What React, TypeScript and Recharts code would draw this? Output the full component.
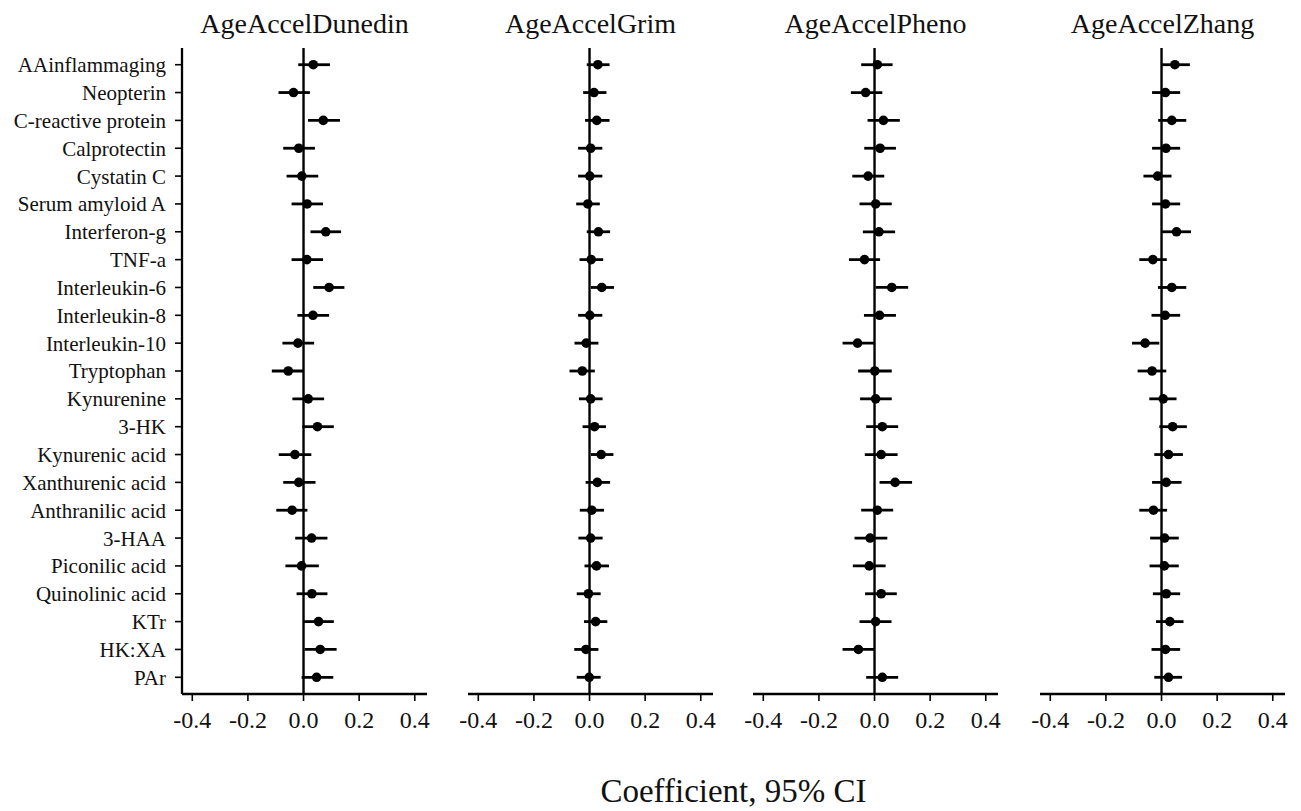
import React from 'react';
import {
  ScatterChart,
  Scatter,
  XAxis,
  YAxis,
  ReferenceLine,
  ErrorBar,
} from 'recharts';

// ── Data ──────────────────────────────────────────────────────────────────────

const markers = [
  'AAinflammaging',
  'Neopterin',
  'C-reactive protein',
  'Calprotectin',
  'Cystatin C',
  'Serum amyloid A',
  'Interferon-g',
  'TNF-a',
  'Interleukin-6',
  'Interleukin-8',
  'Interleukin-10',
  'Tryptophan',
  'Kynurenine',
  '3-HK',
  'Kynurenic acid',
  'Xanthurenic acid',
  'Anthranilic acid',
  '3-HAA',
  'Piconilic acid',
  'Quinolinic acid',
  'KTr',
  'HK:XA',
  'PAr',
];

const panelTitles = ['AgeAccelDunedin', 'AgeAccelGrim', 'AgeAccelPheno', 'AgeAccelZhang'];

const xTicks = [-0.4, -0.2, 0, 0.2, 0.4];

// estimate, lower CI, upper CI (row order as in markers)
const dunedinEst = [0.035, -0.036, 0.071, -0.017, -0.006, 0.013, 0.08, 0.012, 0.092, 0.034, -0.02, -0.055, 0.017, 0.05, -0.031, -0.017, -0.041, 0.029, -0.007, 0.03, 0.054, 0.06, 0.047];
const dunedinLo = [-0.019, -0.09, 0.016, -0.073, -0.061, -0.043, 0.025, -0.043, 0.035, -0.022, -0.076, -0.114, -0.04, -0.004, -0.089, -0.073, -0.098, -0.03, -0.065, -0.025, 0.002, 0.004, -0.007];
const dunedinHi = [0.095, 0.023, 0.131, 0.041, 0.053, 0.07, 0.135, 0.07, 0.147, 0.092, 0.038, 0.0, 0.074, 0.109, 0.028, 0.043, 0.014, 0.086, 0.055, 0.086, 0.109, 0.119, 0.107];

const grimEst = [0.03, 0.016, 0.026, 0.004, 0.001, -0.006, 0.032, 0.006, 0.044, 0.001, -0.012, -0.026, 0.004, 0.018, 0.042, 0.028, 0.008, 0.004, 0.025, -0.004, 0.022, -0.013, -0.001];
const grimLo = [-0.01, -0.023, -0.016, -0.041, -0.041, -0.048, -0.01, -0.036, 0.005, -0.041, -0.054, -0.072, -0.038, -0.025, 0.005, -0.014, -0.035, -0.04, -0.018, -0.046, -0.02, -0.055, -0.046];
const grimHi = [0.072, 0.061, 0.072, 0.046, 0.046, 0.037, 0.074, 0.049, 0.088, 0.046, 0.032, 0.019, 0.047, 0.059, 0.086, 0.074, 0.052, 0.047, 0.07, 0.04, 0.064, 0.032, 0.04];

const phenoEst = [0.01, -0.032, 0.032, 0.02, -0.023, 0.004, 0.016, -0.036, 0.062, 0.018, -0.061, 0.001, 0.004, 0.028, 0.024, 0.074, 0.01, -0.016, -0.019, 0.024, 0.004, -0.058, 0.028];
const phenoLo = [-0.048, -0.085, -0.025, -0.037, -0.08, -0.054, -0.042, -0.092, 0.004, -0.038, -0.115, -0.059, -0.052, -0.03, -0.035, 0.018, -0.048, -0.072, -0.078, -0.034, -0.054, -0.115, -0.03];
const phenoHi = [0.065, 0.028, 0.091, 0.077, 0.035, 0.062, 0.074, 0.02, 0.121, 0.077, 0.0, 0.062, 0.062, 0.085, 0.083, 0.135, 0.067, 0.046, 0.04, 0.08, 0.061, 0.0, 0.085];

const zhangEst = [0.048, 0.014, 0.037, 0.016, -0.014, 0.014, 0.054, -0.031, 0.037, 0.013, -0.059, -0.034, 0.006, 0.04, 0.025, 0.017, -0.029, 0.011, 0.01, 0.017, 0.03, 0.014, 0.025];
const zhangLo = [0.002, -0.034, -0.012, -0.034, -0.065, -0.034, 0.002, -0.08, -0.013, -0.036, -0.106, -0.086, -0.044, -0.008, -0.026, -0.034, -0.08, -0.041, -0.043, -0.031, -0.02, -0.036, -0.026];
const zhangHi = [0.102, 0.067, 0.089, 0.067, 0.036, 0.067, 0.106, 0.019, 0.089, 0.067, -0.008, 0.017, 0.054, 0.091, 0.077, 0.072, 0.02, 0.062, 0.062, 0.067, 0.079, 0.067, 0.074];

const panelSeries = [
  [dunedinEst, dunedinLo, dunedinHi],
  [grimEst, grimLo, grimHi],
  [phenoEst, phenoLo, phenoHi],
  [zhangEst, zhangLo, zhangHi],
];

// ── Layout ────────────────────────────────────────────────────────────────────

const W = 1301;
const H = 811;
const FONT = '"Liberation Serif", "Times New Roman", serif';
const INK = '#000';
const plotLefts = [182, 468, 753, 1040];
const plotW = 245;
const yAxisW = 182;
const margin = { top: 48, right: 10, bottom: 77, left: 10 };
const xAxisH = 40;

function Dot(props: { cx?: number; cy?: number }) {
  const { cx, cy } = props;
  if (cx == null || cy == null) return null;
  return <circle cx={cx} cy={cy} r={4.8} fill={INK} />;
}

function Panel({ idx }: { idx: number }) {
  const [est, lo, hi] = panelSeries[idx];
  const data = markers.map((m, i) => ({
    name: m,
    pos: i + 1,
    est: est[i],
    err: [est[i] - lo[i], hi[i] - est[i]],
  }));
  const first = idx === 0;
  const left = first ? 0 : plotLefts[idx] - margin.left;
  const width = first ? yAxisW + plotW + margin.right : plotW + margin.left + margin.right;

  return (
    <div style={{ position: 'absolute', left, top: 0 }}>
      <ScatterChart
        width={width}
        height={H}
        margin={{ ...margin, left: first ? 0 : margin.left }}
      >
        <XAxis
          type="number"
          dataKey="est"
          domain={[-0.437, 0.444]}
          ticks={xTicks}
          allowDataOverflow
          height={xAxisH}
          tickFormatter={(v: number) => v.toFixed(1)}
          tick={{ fill: '#111', fontSize: 24, fontFamily: FONT }}
          tickSize={7}
          tickMargin={10}
          axisLine={{ stroke: INK, strokeWidth: 2.3 }}
          tickLine={{ stroke: INK, strokeWidth: 1.6 }}
        />
        <YAxis
          type="number"
          dataKey="pos"
          domain={[0.4, 23.6]}
          reversed
          allowDataOverflow
          ticks={markers.map((_, i) => i + 1)}
          interval={0}
          hide={!first}
          width={yAxisW}
          tickFormatter={(v: number) => markers[v - 1] ?? ''}
          tick={{ fill: '#111', fontSize: 21, fontFamily: FONT }}
          tickSize={7}
          tickMargin={9}
          axisLine={{ stroke: INK, strokeWidth: 2.3 }}
          tickLine={{ stroke: INK, strokeWidth: 1.6 }}
        />
        <ReferenceLine x={0} stroke={INK} strokeWidth={2.4} />
        <Scatter data={data} shape={Dot} isAnimationActive={false}>
          <ErrorBar
            dataKey="err"
            direction="x"
            width={0}
            stroke={INK}
            strokeWidth={2.8}
            isAnimationActive={false}
          />
        </Scatter>
      </ScatterChart>
    </div>
  );
}

export default function App() {
  return (
    <div
      style={{
        position: 'absolute',
        left: 0,
        top: 0,
        width: W,
        height: H,
        background: '#fff',
        fontFamily: FONT,
      }}
    >
      {panelTitles.map((_, i) => (
        <Panel key={i} idx={i} />
      ))}
      <svg
        width={W}
        height={H}
        style={{ position: 'absolute', left: 0, top: 0, pointerEvents: 'none' }}
      >
        {panelTitles.map((t, i) => (
          <text
            key={t}
            x={plotLefts[i] + plotW / 2}
            y={33}
            textAnchor="middle"
            fontSize={28}
            fontFamily={FONT}
            fill="#111"
          >
            {t}
          </text>
        ))}
        <text
          x={(plotLefts[0] + plotLefts[3] + plotW) / 2}
          y={802}
          textAnchor="middle"
          fontSize={33}
          fontFamily={FONT}
          fill="#111"
        >
          Coefficient, 95% CI
        </text>
      </svg>
    </div>
  );
}
